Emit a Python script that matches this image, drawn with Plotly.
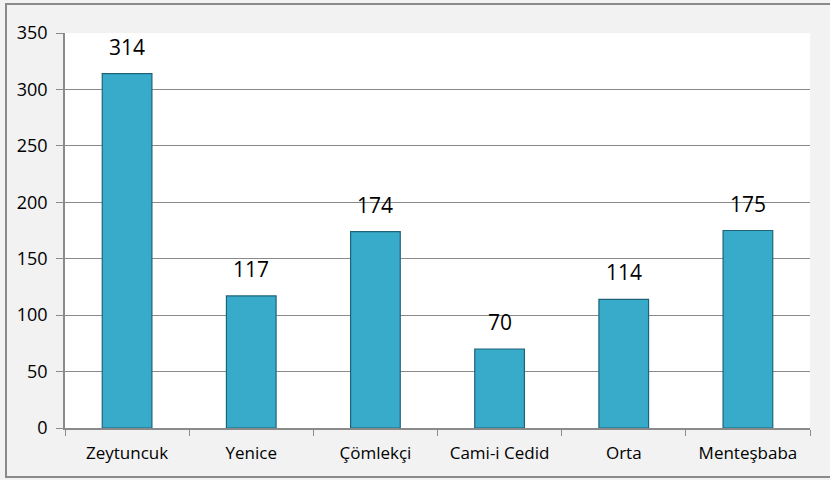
import plotly.graph_objects as go

categories = ["Zeytuncuk", "Yenice", "Çömlekçi", "Cami-i Cedid", "Orta", "Menteşbaba"]
values = [314, 117, 174, 70, 114, 175]
y_ticks = [0, 50, 100, 150, 200, 250, 300, 350]

FONT = "Open Sans"

fig = go.Figure()
fig.add_trace(go.Bar(
    x=categories, y=values,
    marker=dict(color="#38abcb", line=dict(color="#1d6479", width=1.2)),
    hoverinfo="x+y",
))

for c, v in zip(categories, values):
    fig.add_annotation(x=c, y=v, text=str(v), showarrow=False,
                       yanchor="bottom", yshift=11,
                       font=dict(family=FONT, size=21, color="#000"))

# outer chart border
fig.add_shape(type="rect", xref="paper", yref="paper",
              x0=(6 - 65) / 745, x1=(835 - 65) / 745,
              y0=(428 - 477) / 395, y1=(428 - 4) / 395,
              line=dict(color="#8a8a8a", width=2), fillcolor="rgba(0,0,0,0)",
              layer="below")

fig.update_layout(
    width=830, height=480,
    margin=dict(l=65, r=20, t=33, b=52),
    paper_bgcolor="#f2f2f2", plot_bgcolor="#ffffff",
    bargap=0.6, showlegend=False,
    font=dict(family=FONT, size=17, color="#000"),
    xaxis=dict(showgrid=False, showline=True, linecolor="#8a8a8a", linewidth=1.5,
               ticks="outside", ticklen=6, tickcolor="#8a8a8a", tickson="boundaries",
               tickfont=dict(family=FONT, size=17, color="#000"), ticklabelstandoff=9),
    yaxis=dict(range=[0, 350], tickvals=y_ticks, showgrid=True, gridcolor="#8a8a8a",
               gridwidth=1.2, showline=True, linecolor="#8a8a8a", linewidth=1.5,
               ticks="outside", ticklen=7, tickcolor="#8a8a8a", zeroline=False,
               tickfont=dict(family=FONT, size=18, color="#000"), ticklabelstandoff=5),
)

fig.write_html("out.html", config={"displayModeBar": False},
               post_script="document.body.style.margin='0';document.body.style.overflow='hidden';")
